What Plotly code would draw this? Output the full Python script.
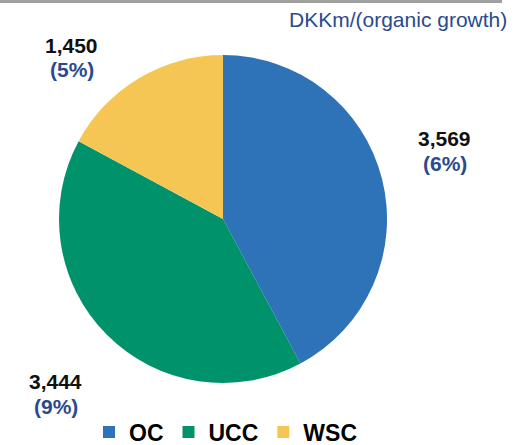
import plotly.graph_objects as go

segments = ["OC", "UCC", "WSC"]
revenue = [3569, 3444, 1450]
growth = ["6%", "9%", "5%"]
colors = ["#2E72B8", "#00926A", "#F6C655"]

W, H = 528, 445
cx, cy, r = 223, 219, 164
FONT = "Liberation Sans, Arial"
NAVY = "#2B4A8E"


def px_x(x):
    return x / W


def px_y(y):
    return 1 - y / H


fig = go.Figure(go.Pie(
    labels=segments, values=revenue, sort=False, direction="clockwise",
    marker=dict(colors=colors, line=dict(width=0)),
    textinfo="none", hoverinfo="label+value",
    domain=dict(x=[px_x(cx - r), px_x(cx + r)], y=[px_y(cy + r), px_y(cy - r)]),
))

# value labels outside the slices (pixel centres of the number line)
label_pos = {"OC": (444, 138), "UCC": (55, 381), "WSC": (71, 45)}
for seg, val, g in zip(segments, revenue, growth):
    lx, ly = label_pos[seg]
    fig.add_annotation(x=px_x(lx), y=px_y(ly), xref="paper", yref="paper", showarrow=False,
                       text=f"<b>{val:,}</b>", xanchor="center", yanchor="middle",
                       font=dict(family=FONT, size=21, color="#111111"))
    fig.add_annotation(x=px_x(lx + 1), y=px_y(ly + 25), xref="paper", yref="paper", showarrow=False,
                       text=f"<b>({g})</b>", xanchor="center", yanchor="middle",
                       font=dict(family=FONT, size=21, color=NAVY))

fig.add_annotation(
    x=px_x(509), y=px_y(19), xref="paper", yref="paper", showarrow=False,
    text="DKKm/(organic growth)", xanchor="right", yanchor="middle",
    font=dict(family=FONT, size=21, color=NAVY),
)

# grey rule across the top
fig.add_shape(type="rect", xref="paper", yref="paper", x0=0, x1=px_x(502), y0=px_y(3), y1=1,
              fillcolor="#A0A0A0", line=dict(width=0))

fig.update_layout(
    width=W, height=H, margin=dict(l=0, r=0, t=0, b=0, autoexpand=False),
    paper_bgcolor="white", plot_bgcolor="white",
    showlegend=True,
    legend=dict(orientation="h", x=px_x(89), y=px_y(432), xanchor="left", yanchor="middle",
                font=dict(family=FONT, size=23, color="#000000", weight="bold"),
                itemwidth=30, traceorder="normal", bgcolor="rgba(0,0,0,0)"),
)

# drop the page's default body margin so the figure sits at the top-left corner
fig.write_html(
    "out.html",
    config={"displayModeBar": False},
    post_script="document.body.style.margin = '0'; document.body.style.overflow = 'hidden';",
)
